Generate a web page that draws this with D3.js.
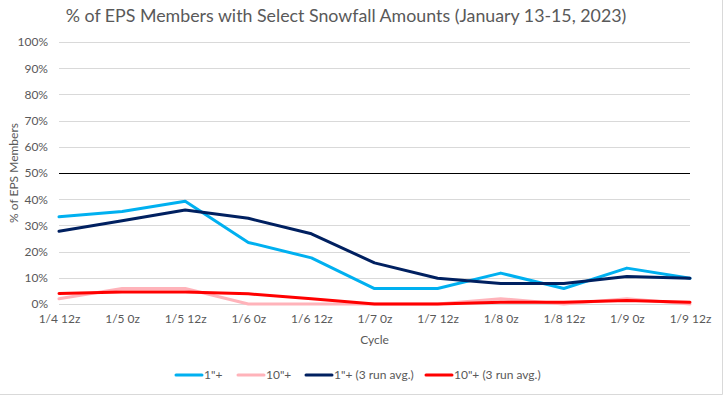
<!DOCTYPE html>
<html>
<head>
<meta charset="utf-8">
<script src="https://cdn.jsdelivr.net/npm/d3@7"></script>
<style>
  body { margin: 0; background: #fff; }
  text { font-family: Lato, "Open Sans", sans-serif; fill: #595959; }
</style>
</head>
<body>
<div id="chart"></div>
<script>
const cycles = ['1/4 12z', '1/5 0z', '1/5 12z', '1/6 0z', '1/6 12z', '1/7 0z', '1/7 12z', '1/8 0z', '1/8 12z', '1/9 0z', '1/9 12z'];
const oneInch = [33.3, 35.3, 39.2, 23.5, 17.6, 5.9, 5.9, 11.8, 5.9, 13.7, 9.8];
const tenInch = [2.0, 5.9, 5.9, 0, 0, 0, 0, 2.0, 0, 2.0, 0];
const oneInchAvg = [27.8, 31.8, 35.9, 32.7, 26.8, 15.7, 9.8, 7.8, 7.8, 10.5, 9.8];
const tenInchAvg = [4.0, 4.6, 4.6, 3.9, 2.0, 0, 0, 0.7, 0.7, 1.3, 0.7];
const yTicks = [0, 10, 20, 30, 40, 50, 60, 70, 80, 90, 100];
const refLine = 50;

const series = [
    { name: '1"+', values: oneInch, color: '#00B0F0' },
    { name: '10"+', values: tenInch, color: '#FFB3BA' },
    { name: '1"+ (3 run avg.)', values: oneInchAvg, color: '#002060' },
    { name: '10"+ (3 run avg.)', values: tenInchAvg, color: '#FF0000' }
];

const width = 723;
const height = 395;
const margin = { top: 42, right: 33, bottom: 91, left: 59 };

const svg = d3.select('#chart')
    .append('svg')
    .attr('width', width)
    .attr('height', height);

// outer chart border (right and bottom visible)
svg.append('line').attr('x1', 722.5).attr('x2', 722.5).attr('y1', 0).attr('y2', 394.5)
    .attr('stroke', '#D9D9D9');
svg.append('line').attr('x1', 0).attr('x2', 722.5).attr('y1', 394.5).attr('y2', 394.5)
    .attr('stroke', '#D9D9D9');

const x = d3.scalePoint()
    .domain(cycles)
    .range([margin.left, width - margin.right]);

const y = d3.scaleLinear()
    .domain([0, 100])
    .range([height - margin.bottom, margin.top]);

// gridlines
svg.append('g')
    .selectAll('line')
    .data(yTicks)
    .enter().append('line')
    .attr('x1', margin.left)
    .attr('x2', width - margin.right)
    .attr('y1', d => Math.round(y(d)) + 0.5)
    .attr('y2', d => Math.round(y(d)) + 0.5)
    .attr('stroke', '#D9D9D9');

// y axis labels
const yAxis = svg.append('g')
    .attr('transform', `translate(${margin.left}, 0)`)
    .call(d3.axisLeft(y).tickValues(yTicks).tickFormat(d => d + '%').tickSize(0).tickPadding(11));
yAxis.select('.domain').remove();
yAxis.selectAll('text').style('font-size', '12px').attr('fill', '#595959')
    .style('font-family', 'Lato, sans-serif');

// x axis labels
const xAxis = svg.append('g')
    .attr('transform', `translate(0, ${height - margin.bottom})`)
    .call(d3.axisBottom(x).tickSize(0).tickPadding(10));
xAxis.select('.domain').remove();
xAxis.selectAll('text').style('font-size', '12px').attr('fill', '#595959')
    .style('font-family', 'Lato, sans-serif');

// 50% reference line
svg.append('line')
    .attr('x1', margin.left)
    .attr('x2', width - margin.right)
    .attr('y1', Math.round(y(refLine)) + 0.5)
    .attr('y2', Math.round(y(refLine)) + 0.5)
    .attr('stroke', '#000')
    .attr('stroke-width', 1.2);

const line = d3.line()
    .x((d, i) => x(cycles[i]))
    .y(d => y(d));

svg.append('g')
    .selectAll('path')
    .data(series)
    .enter().append('path')
    .attr('d', d => line(d.values))
    .attr('fill', 'none')
    .attr('stroke', d => d.color)
    .attr('stroke-width', 3)
    .attr('stroke-linejoin', 'round')
    .attr('stroke-linecap', 'round');

// title
svg.append('text')
    .attr('x', 346)
    .attr('y', 22)
    .attr('text-anchor', 'middle')
    .style('font-size', '17.8px')
    .text('% of EPS Members with Select Snowfall Amounts (January 13-15, 2023)');

// axis titles
svg.append('text')
    .attr('transform', `translate(18, ${y(50)}) rotate(-90)`)
    .attr('text-anchor', 'middle')
    .style('font-size', '12px')
    .text('% of EPS Members');

svg.append('text')
    .attr('x', (margin.left + width - margin.right) / 2)
    .attr('y', 344)
    .attr('text-anchor', 'middle')
    .style('font-size', '12px')
    .text('Cycle');

// legend
const legendX = [175, 237, 305, 425];
const legend = svg.append('g')
    .selectAll('g')
    .data(series)
    .enter().append('g')
    .attr('transform', (d, i) => `translate(${legendX[i]}, 375)`);
legend.append('line')
    .attr('x1', 1).attr('x2', 27)
    .attr('stroke', d => d.color)
    .attr('stroke-width', 3)
    .attr('stroke-linecap', 'round');
legend.append('text')
    .attr('x', 29)
    .attr('dy', '0.35em')
    .style('font-size', '12px')
    .text(d => d.name);
</script>
</body>
</html>
